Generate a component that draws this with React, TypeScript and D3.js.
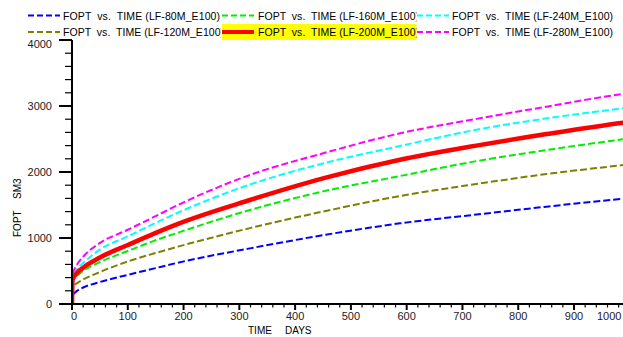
import React from "react";
import * as d3 from "d3";

const W = 623;
const H = 337;

// Sample times (days) shared by every run
const days = [0, 1, 5, 10, 20, 49, 99, 148, 190, 319, 455, 588, 725, 851, 988, 1000];

// Cumulative oil production (FOPT, SM3) per run
const lf80 = [0, 120, 170, 205, 250, 330, 439, 540, 626, 843, 1050, 1222, 1355, 1475, 1595, 1605];
const lf120 = [0, 240, 290, 320, 370, 480, 641, 768, 869, 1150, 1410, 1636, 1818, 1970, 2106, 2118];
const lf160 = [0, 330, 390, 430, 500, 630, 800, 960, 1081, 1424, 1715, 1939, 2165, 2333, 2495, 2508];
const lf200 = [0, 370, 430, 480, 550, 700, 890, 1071, 1215, 1576, 1915, 2185, 2400, 2575, 2747, 2760];
const lf240 = [0, 400, 480, 540, 620, 820, 1020, 1222, 1384, 1810, 2140, 2394, 2640, 2813, 2965, 2978];
const lf280 = [0, 440, 540, 610, 717, 919, 1121, 1323, 1500, 1955, 2295, 2586, 2805, 2990, 3182, 3195];

const seriesNames = [
  "FOPT  vs.  TIME (LF-80M_E100)",
  "FOPT  vs.  TIME (LF-160M_E100)",
  "FOPT  vs.  TIME (LF-240M_E100)",
  "FOPT  vs.  TIME (LF-120M_E100)",
  "FOPT  vs.  TIME (LF-200M_E100)",
  "FOPT  vs.  TIME (LF-280M_E100)",
];
const seriesValues = [lf80, lf160, lf240, lf120, lf200, lf280];
const seriesColors = ["#0000ff", "#00ee00", "#00ffff", "#808000", "#ff0000", "#ff00ff"];

const xTicks = [0, 100, 200, 300, 400, 500, 600, 700, 800, 900, 1000];
const yTicks = [0, 1000, 2000, 3000, 4000];

const FONT = "'Liberation Sans', Arial, sans-serif";

export default function App() {
  const x = d3.scaleLinear().domain([0, 1000]).range([72, 629.8]);
  const y = d3.scaleLinear().domain([0, 4000]).range([304, 40]);

  const line = d3
    .line<number>()
    .x((_, i) => x(days[i]))
    .y((v) => y(v))
    .curve(d3.curveMonotoneX);

  const xMinor = d3.range(0, 1001, 20).filter((d) => d % 100 !== 0);
  const yMinor = d3.range(0, 4001, 200).filter((d) => d % 1000 !== 0);

  // legend grid: 3 columns x 2 rows
  const colLine = [28, 222, 417];
  const colText = [63, 258, 452];
  const colClip = [221, 416.5, 623];
  const rowLine = [15.5, 32];
  const rowBase = [19.5, 36];
  const textLen = [157, 161, 161, 161, 161, 161];

  // draw order: thick red run on top
  const drawOrder = [0, 3, 1, 2, 5, 4];

  return (
    <svg
      width={W}
      height={H}
      style={{ position: "absolute", left: 0, top: 0, background: "#fff" }}
      fontFamily={FONT}
    >
      <defs>
        <clipPath id="plotClip">
          <rect x={72} y={0} width={W - 72} height={304} />
        </clipPath>
        {colClip.map((c, i) => (
          <clipPath id={`legClip${i}`} key={i}>
            <rect x={colText[i] - 2} y={0} width={c - colText[i] + 2} height={50} />
          </clipPath>
        ))}
      </defs>
      <rect x={0} y={0} width={W} height={H} fill="#fff" />

      {/* legend */}
      <rect x={222} y={24} width={194.5} height={16} fill="#ffff00" />
      {seriesNames.map((name, i) => {
        const col = i % 3;
        const row = Math.floor(i / 3);
        const isRed = i === 4;
        return (
          <g key={name}>
            <line
              x1={colLine[col]}
              x2={colLine[col] + 32}
              y1={rowLine[row]}
              y2={rowLine[row]}
              stroke={seriesColors[i]}
              strokeWidth={isRed ? 4 : 1.8}
              strokeDasharray={isRed ? undefined : "6,3"}
            />
            <g clipPath={`url(#legClip${col})`}>
              <text
                x={colText[col]}
                y={rowBase[row]}
                fontSize={10.5}
                fill="#000"
                textLength={textLen[i]}
                lengthAdjust="spacing"
                style={{ whiteSpace: "pre" }}
              >
                {name}
              </text>
            </g>
          </g>
        );
      })}

      {/* curves */}
      <g clipPath="url(#plotClip)">
        {drawOrder.map((i) => (
          <path
            key={i}
            d={line(seriesValues[i]) || ""}
            fill="none"
            stroke={seriesColors[i]}
            strokeWidth={i === 4 ? 4.5 : 2}
            strokeDasharray={i === 4 ? undefined : "7,3"}
          />
        ))}
      </g>

      {/* axes */}
      <line x1={72} x2={72} y1={40} y2={305} stroke="#000" strokeWidth={2} />
      <line x1={71} x2={W} y1={304} y2={304} stroke="#000" strokeWidth={2} />

      {yTicks.map((t) => (
        <g key={`y${t}`}>
          <line x1={59} x2={72} y1={y(t)} y2={y(t)} stroke="#000" strokeWidth={2} />
          <text
            x={52}
            y={y(t) + (t === 4000 ? 4 : 0)}
            fontSize={11}
            textAnchor="end"
            dominantBaseline="central"
            fill="#222"
          >
            {t}
          </text>
        </g>
      ))}
      {yMinor.map((t) => (
        <line key={`ym${t}`} x1={65} x2={72} y1={y(t)} y2={y(t)} stroke="#000" strokeWidth={1.2} />
      ))}

      {xTicks.map((t) => (
        <g key={`x${t}`}>
          <line x1={x(t)} x2={x(t)} y1={304} y2={310} stroke="#000" strokeWidth={2} />
          <text
            x={t === 1000 ? 597 : x(t) + (t === 0 ? 2 : 0)}
            y={320}
            fontSize={11}
            textAnchor={t === 1000 ? "start" : "middle"}
            fill="#222"
          >
            {t}
          </text>
        </g>
      ))}
      {xMinor.map((t) => (
        <line key={`xm${t}`} x1={x(t)} x2={x(t)} y1={304} y2={307.5} stroke="#000" strokeWidth={1.2} />
      ))}

      {/* axis titles */}
      <text x={248} y={334} fontSize={10} fill="#000">TIME</text>
      <text x={285} y={334} fontSize={10} fill="#000">DAYS</text>
      <text transform="translate(21,237) rotate(-90)" x={0} y={0} fontSize={10} fill="#000">
        FOPT
      </text>
      <text transform="translate(21,199) rotate(-90)" x={0} y={0} fontSize={10} fill="#000">
        SM3
      </text>
    </svg>
  );
}
